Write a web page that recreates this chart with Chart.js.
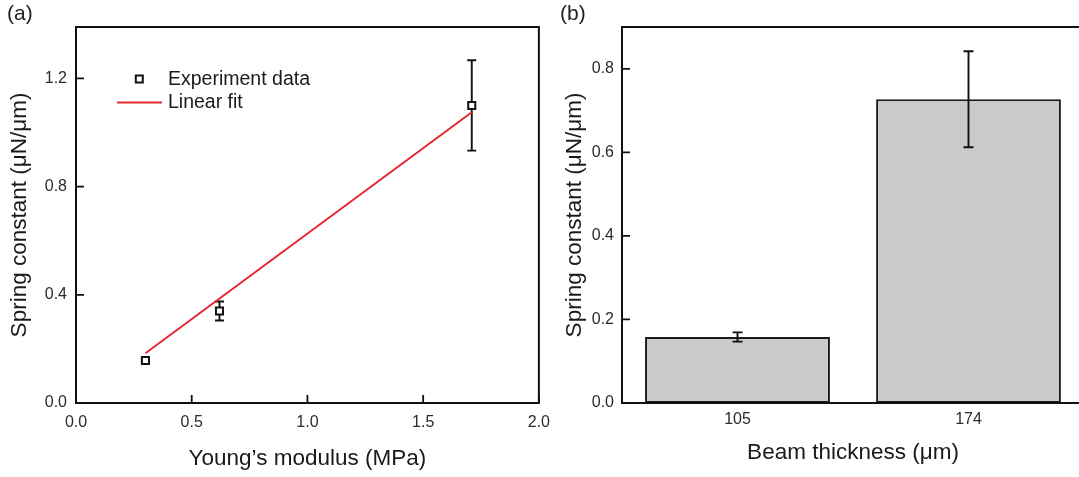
<!DOCTYPE html>
<html>
<head>
<meta charset="utf-8">
<script src="https://cdn.jsdelivr.net/npm/chart.js"></script>
<style>
  html, body { margin: 0; padding: 0; background: #fff; overflow: hidden; }
  body { width: 1079px; height: 477px; position: relative; }
  .panel { position: absolute; top: 0; }
  .tag { position: absolute; top: 1px; font: 21px "Liberation Sans", Arial, sans-serif; color: #222; }
</style>
</head>
<body>
<div class="panel" style="left:0"><canvas id="chartA" width="560" height="477"></canvas></div>
<div class="panel" style="left:540px"><canvas id="chartB" width="544" height="477"></canvas></div>
<div class="tag" style="left:7px">(a)</div>
<div class="tag" style="left:560px">(b)</div>
<script>
// (a) spring constant vs Young's modulus
const modulus = [0.30, 0.62, 1.71];
const springA = [0.157, 0.340, 1.100];
const errA = [0.006, 0.035, 0.167];
const fitX = [0.30, 1.71];
const fitY = [0.184, 1.075];
const xTicksA = [0, 0.5, 1.0, 1.5, 2.0];
const yTicksA = [0, 0.4, 0.8, 1.2];

// (b) spring constant vs beam thickness
const thickness = ['105', '174'];
const springB = [0.158, 0.727];
const errB = [0.011, 0.115];
const yTicksB = [0, 0.2, 0.4, 0.6, 0.8];

Chart.defaults.font.family = '"Liberation Sans", Arial, sans-serif';
Chart.defaults.color = '#2b2b2b';

const ink = '#111';

// box round the plot area + short inward tick marks
const framePlugin = {
  id: 'frame',
  afterDatasetsDraw(chart, args, opts) {
    const { ctx, chartArea: a, scales } = chart;
    ctx.save();
    ctx.strokeStyle = ink;
    ctx.lineWidth = 2;
    ctx.strokeRect(a.left, a.top, a.right - a.left, a.bottom - a.top);
    ctx.lineWidth = 1.8;
    ctx.beginPath();
    if (opts.xTicks) {
      scales.x.ticks.forEach(t => {
        const px = scales.x.getPixelForValue(t.value);
        ctx.moveTo(px, a.bottom);
        ctx.lineTo(px, a.bottom - 8);
      });
    }
    scales.y.ticks.forEach(t => {
      const py = scales.y.getPixelForValue(t.value);
      ctx.moveTo(a.left, py);
      ctx.lineTo(a.left + 8, py);
    });
    ctx.stroke();
    ctx.restore();
  }
};

// vertical error bars with caps, from dataset.errors
function drawErrors(chart, cap) {
  const { ctx, scales } = chart;
  chart.data.datasets.forEach((ds, di) => {
    if (!ds.errors) return;
    const meta = chart.getDatasetMeta(di);
    ctx.save();
    ctx.strokeStyle = ink;
    ctx.lineWidth = 1.9;
    meta.data.forEach((el, i) => {
      const v = typeof ds.data[i] === 'object' ? ds.data[i].y : ds.data[i];
      const e = ds.errors[i];
      const top = scales.y.getPixelForValue(v + e);
      const bot = scales.y.getPixelForValue(v - e);
      ctx.beginPath();
      ctx.moveTo(el.x, top); ctx.lineTo(el.x, bot);
      ctx.moveTo(el.x - cap, top); ctx.lineTo(el.x + cap, top);
      ctx.moveTo(el.x - cap, bot); ctx.lineTo(el.x + cap, bot);
      ctx.stroke();
    });
    ctx.restore();
  });
}

const errUnderPoints = {
  id: 'errUnder',
  beforeDatasetsDraw(chart) { drawErrors(chart, 4.5); }
};
const errOverBars = {
  id: 'errOver',
  afterDatasetsDraw(chart) { drawErrors(chart, 5); }
};

// legend inside the left plot
const legendA = {
  id: 'legendA',
  afterDraw(chart) {
    const { ctx } = chart;
    const [pts, fit] = chart.data.datasets;
    ctx.save();
    ctx.font = '19.5px "Liberation Sans", Arial, sans-serif';
    ctx.textBaseline = 'middle';
    ctx.strokeStyle = pts.borderColor;
    ctx.lineWidth = pts.borderWidth;
    ctx.fillStyle = '#fff';
    ctx.fillRect(135.8, 75.5, 7, 7);
    ctx.strokeRect(135.8, 75.5, 7, 7);
    ctx.fillStyle = '#1a1a1a';
    ctx.fillText(pts.label, 168, 80);
    ctx.strokeStyle = fit.borderColor;
    ctx.lineWidth = fit.borderWidth;
    ctx.beginPath();
    ctx.moveTo(117, 102.5); ctx.lineTo(162, 102.5);
    ctx.stroke();
    ctx.fillText(fit.label, 168, 103);
    ctx.restore();
  }
};

const tickFont = { size: 16 };
const titleFont = { size: 22.5 };

new Chart(document.getElementById('chartA'), {
  type: 'scatter',
  data: {
    datasets: [
      {
        label: 'Experiment data',
        data: modulus.map((x, i) => ({ x, y: springA[i] })),
        errors: errA,
        pointStyle: 'rect',
        pointRadius: 5,
        borderColor: ink,
        backgroundColor: '#fff',
        borderWidth: 2,
        order: 0
      },
      {
        label: 'Linear fit',
        type: 'line',
        data: fitX.map((x, i) => ({ x, y: fitY[i] })),
        borderColor: '#e8262d',
        borderWidth: 2,
        pointRadius: 0,
        order: 1
      }
    ]
  },
  options: {
    responsive: false,
    animation: false,
    devicePixelRatio: 1,
    layout: { padding: { top: 27, right: 18, left: 0, bottom: 0 } },
    plugins: { legend: { display: false }, tooltip: { enabled: false }, frame: { xTicks: true } },
    scales: {
      x: {
        type: 'linear', min: 0, max: 2,
        afterBuildTicks: s => { s.ticks = xTicksA.map(v => ({ value: v })); },
        afterFit: s => { s.height = 74; },
        grid: { display: false, drawTicks: false },
        border: { display: false },
        ticks: { font: tickFont, padding: 10, maxRotation: 0, autoSkip: false, callback: v => v.toFixed(1) },
        title: { display: true, text: 'Young’s modulus (MPa)', font: titleFont, color: '#1a1a1a', padding: { top: 0, bottom: 5 } }
      },
      y: {
        min: 0, max: 1.39,
        afterBuildTicks: s => { s.ticks = yTicksA.map(v => ({ value: v })); },
        afterFit: s => { s.width = 76; },
        grid: { display: false, drawTicks: false },
        border: { display: false },
        ticks: { font: tickFont, padding: 9, callback: v => v.toFixed(1) },
        title: { display: true, text: 'Spring constant (μN/μm)', font: titleFont, color: '#1a1a1a', padding: { top: 6, bottom: 0 } }
      }
    }
  },
  plugins: [errUnderPoints, framePlugin, legendA]
});

new Chart(document.getElementById('chartB'), {
  type: 'bar',
  data: {
    labels: thickness,
    datasets: [{
      label: 'Spring constant',
      data: springB,
      errors: errB,
      backgroundColor: '#c8cacc',
      borderColor: '#1a1a1a',
      borderWidth: 2,
      borderSkipped: false,
      categoryPercentage: 1,
      barPercentage: 0.8
    }]
  },
  options: {
    responsive: false,
    animation: false,
    devicePixelRatio: 1,
    layout: { padding: { top: 27, right: 0, left: 0, bottom: 0 } },
    plugins: { legend: { display: false }, tooltip: { enabled: false }, frame: { xTicks: false } },
    scales: {
      x: {
        afterFit: s => { s.height = 74; },
        grid: { display: false, drawTicks: false },
        border: { display: false },
        ticks: { font: tickFont, padding: 7 },
        title: { display: true, text: 'Beam thickness (μm)', font: titleFont, color: '#1a1a1a', padding: { top: 0, bottom: 11 } }
      },
      y: {
        min: 0, max: 0.9,
        afterBuildTicks: s => { s.ticks = yTicksB.map(v => ({ value: v })); },
        afterFit: s => { s.width = 82; },
        grid: { display: false, drawTicks: false },
        border: { display: false },
        ticks: { font: tickFont, padding: 8, callback: v => v.toFixed(1) },
        title: { display: true, text: 'Spring constant (μN/μm)', font: titleFont, color: '#1a1a1a', padding: { top: 21, bottom: 0 } }
      }
    }
  },
  plugins: [framePlugin, errOverBars]
});
</script>
</body>
</html>
